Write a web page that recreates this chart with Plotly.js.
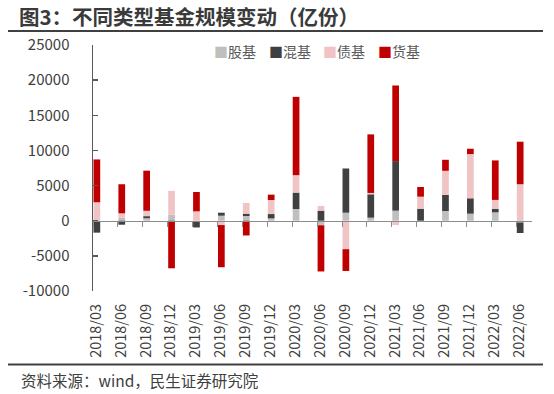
<!DOCTYPE html>
<html>
<head>
<meta charset="utf-8">
<script src="https://cdn.plot.ly/plotly-3.0.1.min.js"></script>
<style>
  html, body { margin: 0; padding: 0; background: #ffffff; }
  #chart { width: 554px; height: 394px; }
</style>
</head>
<body>
<div id="chart"></div>
<script>
// ---- data ----
const categories = ['2018/03','2018/06','2018/09','2018/12','2019/03','2019/06','2019/09','2019/12',
  '2020/03','2020/06','2020/09','2020/12','2021/03','2021/06','2021/09','2021/12','2022/03','2022/06'];
const seriesNames = ['股基', '混基', '债基', '货基'];
const stockFund  = [-150, 400, 350, 860, -100, 710, 670, 330, 1670, -650, 1140, 430, 1430, 0, 1380, 1000, 1190, -250];
const hybridFund = [-1550, -570, 300, -100, -860, 430, 330, 620, 2330, 1430, 6290, 3330, 7050, 1710, 2290, 2190, 480, -1500];
const bondFund   = [2620, 650, 760, 3380, 1330, -620, 1520, 2000, 2480, 670, -4050, 190, -620, 1710, 3430, 6290, 1290, 5190];
const moneyFund  = [6100, 4140, 5710, -6670, 2760, -6000, -2100, 760, 11140, -6570, -3100, 8330, 10760, 1380, 1570, 760, 5620, 6050];
const yTickVals = [-10000, -5000, 0, 5000, 10000, 15000, 20000, 25000];
const yTickText = ['-10000', '-5000', '0', '5000', '10000', '15000', '20000', '25000'];
const titleText = '图3：不同类型基金规模变动（亿份）';
const sourceText = '资料来源：wind，民生证券研究院';

// ---- styling ----
const colors = ['#BFBFBF', '#404040', '#F0C4C4', '#C00000'];
const seriesValues = [stockFund, hybridFund, bondFund, moneyFund];
const FONT = '"Noto Sans CJK SC", "Noto Sans", sans-serif';
const W = 554, H = 394;
const M = { l: 93, r: 22, t: 45, b: 103 };
const plotW = W - M.l - M.r, plotH = H - M.t - M.b;
const px2x = px => (px - M.l) / plotW;
const py2y = py => (H - M.b - py) / plotH;
const yMin = yTickVals[0], yMax = yTickVals[yTickVals.length - 1];

const traces = seriesNames.map((name, k) => ({
  type: 'bar',
  name: name,
  x: categories,
  y: seriesValues[k],
  width: 0.27,
  offset: 0.02,
  marker: { color: colors[k], line: { width: 0 } },
  showlegend: false,
  hoverinfo: 'x+y+name'
}));
// empty helper trace so the overlaid tick axis at y=0 exists
traces.push({ type: 'scatter', x: [], y: [], xaxis: 'x2', yaxis: 'y', showlegend: false, hoverinfo: 'skip' });

const legendAnn = seriesNames.map((name, k) => ({
  xref: 'paper', yref: 'paper',
  x: px2x(212 + k * 54.7), y: py2y(51),
  xanchor: 'left', yanchor: 'middle',
  showarrow: false,
  text: '<span style="color:' + colors[k] + '">■</span>' + name,
  font: { family: FONT, size: 14, color: '#595959' }
}));

const layout = {
  width: W, height: H,
  margin: M,
  paper_bgcolor: '#ffffff', plot_bgcolor: '#ffffff',
  font: { family: FONT, size: 13, color: '#404040' },
  title: {
    text: '<b>' + titleText + '</b>',
    xref: 'container', yref: 'container',
    x: 19 / W, xanchor: 'left',
    y: 1 - 18 / H, yanchor: 'middle',
    font: { family: FONT, size: 20.5, color: '#3a3a3a' }
  },
  barmode: 'relative',
  xaxis: {
    type: 'category',
    range: [0, 17.63],
    showline: false, showgrid: false, zeroline: false,
    ticks: '',
    tickangle: -90,
    ticklabelshift: 3,
    ticklabelstandoff: 9,
    tickfont: { family: FONT, size: 14.5, color: '#404040' },
    automargin: false,
    fixedrange: true
  },
  xaxis2: {
    overlaying: 'x',
    anchor: 'free',
    position: (0 - yMin) / (yMax - yMin),
    type: 'linear',
    range: [0, 17.63],
    tickvals: categories.map((c, i) => i),
    showticklabels: false,
    ticks: 'outside', ticklen: 5, tickwidth: 1, tickcolor: '#8C8C8C',
    showline: true, linecolor: '#8C8C8C', linewidth: 1.5,
    showgrid: false, zeroline: false,
    fixedrange: true
  },
  yaxis: {
    range: [yMin, yMax],
    tickvals: yTickVals, ticktext: yTickText,
    ticks: 'inside', ticklen: 5, tickwidth: 1.5, tickcolor: '#595959',
    showline: true, linecolor: '#595959', linewidth: 1.5,
    showgrid: false, zeroline: false,
    ticklabelstandoff: 19,
    tickfont: { family: FONT, size: 15, color: '#404040' },
    automargin: false,
    fixedrange: true
  },
  shapes: [
    { type: 'line', xref: 'paper', yref: 'paper', x0: px2x(8), x1: px2x(543), y0: py2y(31), y1: py2y(31),
      line: { color: '#404040', width: 2 } },
    { type: 'line', xref: 'paper', yref: 'paper', x0: px2x(8), x1: px2x(543), y0: py2y(364.5), y1: py2y(364.5),
      line: { color: '#404040', width: 2 } }
  ],
  annotations: legendAnn.concat([{
    xref: 'paper', yref: 'paper',
    x: px2x(19), y: py2y(380),
    xanchor: 'left', yanchor: 'middle',
    showarrow: false,
    text: sourceText,
    font: { family: FONT, size: 15.5, color: '#404040' }
  }])
};

Plotly.newPlot('chart', traces, layout, { displayModeBar: false, staticPlot: true });
</script>
</body>
</html>
